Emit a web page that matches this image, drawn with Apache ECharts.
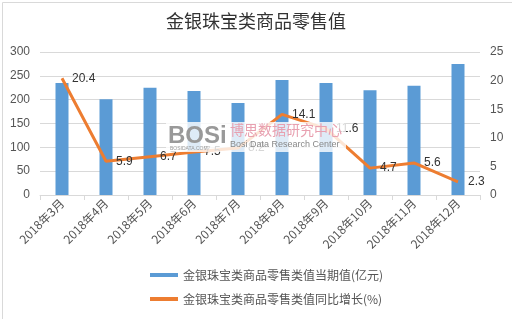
<!DOCTYPE html>
<html><head><meta charset="utf-8">
<script src="https://cdn.jsdelivr.net/npm/echarts@6/dist/echarts.min.js"></script>
<style>html,body{margin:0;padding:0;background:#fff}#c{width:512px;height:319px}</style>
</head><body><div id="c"></div>
<script>
var categories = ['2018年3月','2018年4月','2018年5月','2018年6月','2018年7月','2018年8月','2018年9月','2018年10月','2018年11月','2018年12月'];
var retailValue = [235, 201, 225, 218, 193, 241, 235, 220, 229, 275];
var growthRate = [20.4, 5.9, 6.7, 7.5, 8.2, 14.1, 11.6, 4.7, 5.6, 2.3];
var leftTicks = [0, 300, 50];
var rightTicks = [0, 25, 5];
var seriesNames = ['金银珠宝类商品零售类值当期值(亿元)', '金银珠宝类商品零售类值同比增长(%)'];

var chart = echarts.init(document.getElementById('c'));
var font = '"Microsoft YaHei","Noto Sans CJK SC",sans-serif';
chart.setOption({
  animation: false,
  title: { text: '金银珠宝类商品零售值', left: 'center', top: 7,
    textStyle: { fontSize: 18, fontWeight: 'normal', color: '#333', fontFamily: font } },
  grid: { left: 40, right: 32, top: 52, bottom: 124 },
  legend: { orient: 'vertical', left: 145, top: 264, itemGap: 12, itemWidth: 28, itemHeight: 4,
    textStyle: { fontSize: 12, color: '#555', fontFamily: font },
    data: [{ name: seriesNames[0], icon: 'rect', itemStyle: { color: '#5B9BD5' } },
           { name: seriesNames[1], icon: 'rect', itemStyle: { color: '#ED7D31', opacity: 1 } }] },
  xAxis: { type: 'category', data: categories,
    axisLine: { lineStyle: { color: '#d9d9d9' } }, axisTick: { show: true, lineStyle: { color: '#d9d9d9' } },
    axisLabel: { rotate: 45, color: '#555', fontSize: 12, margin: 6, fontFamily: font, interval: 0 } },
  yAxis: [
    { type: 'value', min: leftTicks[0], max: leftTicks[1], interval: leftTicks[2],
      axisLine: { show: false }, axisTick: { show: false },
      axisLabel: { color: '#555', fontSize: 12, margin: 10 },
      splitLine: { lineStyle: { color: '#d9d9d9' } } },
    { type: 'value', min: rightTicks[0], max: rightTicks[1], interval: rightTicks[2],
      axisLine: { show: false }, axisTick: { show: false },
      axisLabel: { color: '#555', fontSize: 12, margin: 10 },
      splitLine: { show: false } }
  ],
  series: [
    { name: seriesNames[0], type: 'bar', data: retailValue, barWidth: 13,
      itemStyle: { color: '#5B9BD5' } },
    { name: seriesNames[1], type: 'line', yAxisIndex: 1, data: growthRate,
      symbol: 'circle', symbolSize: 0.01, showSymbol: true,
      lineStyle: { color: '#ED7D31', width: 3 }, itemStyle: { color: '#ED7D31' },
      label: { show: true, position: 'right', distance: 10, color: '#333', fontSize: 12, offset: [0, 4] },
      labelLayout: { hideOverlap: false } }
  ],
  graphic: [
    { type: 'rect', left: 0, top: 0, z: -1, shape: { width: 511, height: 318 }, style: { fill: 'none', stroke: '#d9d9d9', lineWidth: 1 } },
    { type: 'rect', left: 166, top: 122, z: 100, shape: { width: 180, height: 30 }, style: { fill: 'rgba(255,255,255,0.8)' } },
    { type: 'text', left: 168, top: 124, z: 101, style: { text: 'BOSi', font: 'bold 24px sans-serif', fill: '#999' } },
    { type: 'text', left: 170, top: 146, z: 101, style: { text: 'BOSIDATA.COM', font: '5px sans-serif', fill: '#999' } },
    { type: 'text', left: 230, top: 123, z: 101, style: { text: '博思数据研究中心', font: '14px "Noto Sans CJK SC"', fill: '#e8a0b0' } },
    { type: 'text', left: 230, top: 140, z: 101, style: { text: 'Bosi Data Research Center', font: '9px sans-serif', fill: '#888' } }
  ]
});
</script></body></html>
